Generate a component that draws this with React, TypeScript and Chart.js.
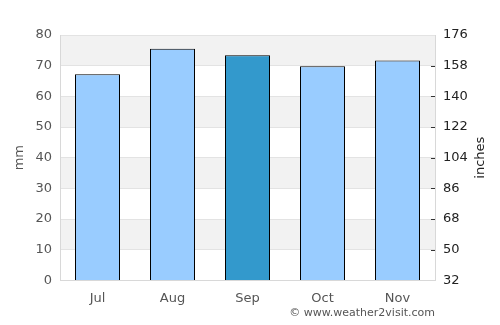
import React, { useEffect, useRef } from "react";
import { Chart, registerables } from "chart.js";

Chart.register(...registerables);

const months = ["Jul", "Aug", "Sep", "Oct", "Nov"];
const rainfallMm = [67.2, 75.5, 73.4, 69.8, 71.7];
const barColors = ["#99ccff", "#99ccff", "#3399cc", "#99ccff", "#99ccff"];
const rightTickLabels = [32, 50, 68, 86, 104, 122, 140, 158, 176];
const credit = "© www.weather2visit.com";

const FONT = "'DejaVu Sans', sans-serif";
const TEXT = "#555555";
const DARK = "#222222";

function drawVerticalTitle(ctx: any, text: string, x: number, y: number, color: string) {
  ctx.save();
  ctx.font = `13px ${FONT}`;
  ctx.fillStyle = color;
  ctx.textAlign = "center";
  ctx.textBaseline = "middle";
  ctx.translate(x, y);
  ctx.rotate(-Math.PI / 2);
  ctx.fillText(text, 0, 0);
  ctx.restore();
}

const bandsPlugin = {
  id: "bands",
  beforeDraw(chart: any) {
    const { ctx, chartArea, scales } = chart;
    const y = scales.y;
    ctx.save();
    ctx.fillStyle = "#f2f2f2";
    for (let v = 70; v >= 0; v -= 20) {
      const top = y.getPixelForValue(v + 10);
      const bot = y.getPixelForValue(v);
      ctx.fillRect(chartArea.left, top, chartArea.right - chartArea.left, bot - top);
    }
    ctx.restore();
  },
  afterDraw(chart: any) {
    const { ctx, chartArea, scales } = chart;
    const y2 = scales.y2;
    ctx.save();
    ctx.strokeStyle = "#333333";
    ctx.lineWidth = 1;
    y2.ticks.forEach((t: any) => {
      if (t.value === y2.min || t.value === y2.max) return;
      const py = Math.round(y2.getPixelForValue(t.value)) + 0.5;
      ctx.beginPath();
      ctx.moveTo(chartArea.right - 4, py);
      ctx.lineTo(chartArea.right, py);
      ctx.stroke();
    });
    ctx.restore();

    const midY = (chartArea.top + chartArea.bottom) / 2;
    drawVerticalTitle(ctx, "mm", 20, midY, TEXT);
    drawVerticalTitle(ctx, "inches", 481, midY, DARK);

    ctx.save();
    ctx.font = `11px ${FONT}`;
    ctx.fillStyle = TEXT;
    ctx.textAlign = "right";
    ctx.textBaseline = "middle";
    ctx.fillText(credit, chartArea.right, 313);
    ctx.restore();
  },
};

export default function App() {
  const ref = useRef<HTMLCanvasElement>(null);
  useEffect(() => {
    document.body.style.margin = "0";
    const chart = new Chart(ref.current!, {
      type: "bar",
      data: {
        labels: months,
        datasets: [
          {
            data: rainfallMm,
            backgroundColor: barColors,
            borderColor: "#000000",
            borderWidth: 1,
            barPercentage: 0.6,
            categoryPercentage: 1,
            yAxisID: "y",
          },
        ],
      },
      options: {
        animation: false,
        responsive: false,
        devicePixelRatio: 1,
        layout: { padding: { left: 0, right: 0, top: 35, bottom: 9 } },
        plugins: { legend: { display: false }, tooltip: { enabled: false } },
        scales: {
          x: {
            grid: { display: false, drawTicks: false },
            border: { color: "#d8d8d8" },
            ticks: { color: TEXT, font: { family: FONT, size: 13 }, padding: 10 },
          },
          y: {
            position: "left",
            min: 0,
            max: 80,
            afterFit: (s: any) => {
              s.width = 60;
            },
            ticks: { stepSize: 10, color: TEXT, font: { family: FONT, size: 13 }, padding: 8 },
            grid: { color: "#e3e3e3", drawTicks: false },
            border: { color: "#d8d8d8" },
          },
          y2: {
            position: "right",
            min: 32,
            max: 176,
            afterFit: (s: any) => {
              s.width = 65;
            },
            ticks: {
              stepSize: 9,
              color: DARK,
              font: { family: FONT, size: 13 },
              padding: 8,
              callback: (v: any) => (rightTickLabels.includes(Number(v)) ? String(v) : ""),
            },
            grid: { display: false, drawTicks: false },
            border: { display: true, color: "#d8d8d8" },
          },
        },
      },
      plugins: [bandsPlugin],
    });
    return () => chart.destroy();
  }, []);
  return (
    <div style={{ position: "absolute", left: 0, top: 0, width: 500, height: 325 }}>
      <canvas ref={ref} width={500} height={325} />
    </div>
  );
}
